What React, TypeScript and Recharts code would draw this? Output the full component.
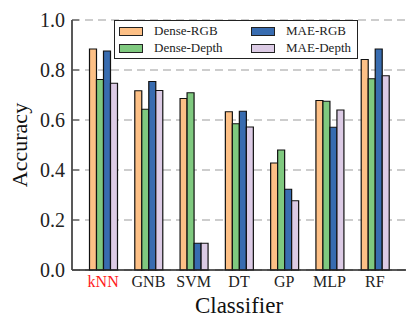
import React from 'react'
import { BarChart, Bar, XAxis, YAxis, CartesianGrid } from 'recharts'

const classifiers = ['kNN', 'GNB', 'SVM', 'DT', 'GP', 'MLP', 'RF']
const denseRgb = [0.884, 0.717, 0.686, 0.633, 0.428, 0.678, 0.842]
const denseDepth = [0.762, 0.643, 0.709, 0.585, 0.48, 0.675, 0.765]
const maeRgb = [0.876, 0.754, 0.107, 0.635, 0.323, 0.571, 0.884]
const maeDepth = [0.747, 0.718, 0.107, 0.572, 0.277, 0.64, 0.777]
const yTicks = [0, 0.2, 0.4, 0.6, 0.8, 1.0]

const series = [
  { key: 'denseRgb', name: 'Dense-RGB', color: '#fdc086' },
  { key: 'denseDepth', name: 'Dense-Depth', color: '#7fc97f' },
  { key: 'maeRgb', name: 'MAE-RGB', color: '#386cb0' },
  { key: 'maeDepth', name: 'MAE-Depth', color: '#dccbe5' },
]

const data = classifiers.map((name, i) => ({
  name,
  denseRgb: denseRgb[i],
  denseDepth: denseDepth[i],
  maeRgb: maeRgb[i],
  maeDepth: maeDepth[i],
}))

const FONT = '"Liberation Serif", "DejaVu Serif", serif'

const YTick = (props: any) => {
  const { x, y, payload } = props
  return (
    <g>
      <line x1={x + 7} x2={x + 14} y1={y} y2={y} stroke="#555" strokeWidth={1.2} />
      <text x={x} y={y} dy="0.35em" textAnchor="end" fontSize={20} fontFamily={FONT} fill="#222">
        {payload.value.toFixed(1)}
      </text>
    </g>
  )
}

const XTick = (props: any) => {
  const { x, payload } = props
  return (
    <text x={x} y={287} textAnchor="middle" fontSize={16} fontFamily={FONT} fill={payload.value === 'kNN' ? '#ff1a1a' : '#222'}>
      {payload.value}
    </text>
  )
}

// legenda em HTML por cima do gráfico (o Legend do recharts empurra a área do plot)
const LegendBox = () => {
  const cols = [series.slice(0, 2), series.slice(2, 4)]
  return (
    <div
      style={{
        position: 'absolute',
        left: 114,
        top: 20,
        width: 244,
        height: 39,
        border: '1px solid #222',
        background: '#fff',
        boxSizing: 'border-box',
        fontFamily: FONT,
        fontSize: 13,
        color: '#222',
      }}
    >
      {cols.map((col, c) =>
        col.map((s, r) => (
          <div key={s.key} style={{ position: 'absolute', left: c === 0 ? 4 : 136, top: r === 0 ? 2 : 19, height: 16, display: 'flex', alignItems: 'center' }}>
            <span style={{ display: 'inline-block', width: 24, height: 9, background: s.color, border: '1px solid #222', boxSizing: 'border-box' }} />
            <span style={{ marginLeft: 11, whiteSpace: 'nowrap' }}>{s.name}</span>
          </div>
        ))
      )}
    </div>
  )
}

export default function App() {
  return (
    <div style={{ position: 'absolute', left: 0, top: 0, width: 416, height: 327, background: '#fff' }}>
      <BarChart width={416} height={327} data={data} margin={{ top: 20, right: 10, left: 22, bottom: 0 }} barSize={7} barGap={0}>
        <CartesianGrid vertical={false} stroke="#bdbdbd" strokeDasharray="8 5" strokeWidth={1.3} />
        <XAxis
          dataKey="name"
          height={57}
          padding={{ left: 8.5, right: 8.5 }}
          tickLine={false}
          axisLine={{ stroke: '#222', strokeWidth: 1.5 }}
          tick={<XTick />}
          label={{
            content: () => (
              <text x={239} y={313} textAnchor="middle" fontSize={23} fontFamily={FONT} fill="#111">
                Classifier
              </text>
            ),
          }}
        />
        <XAxis xAxisId="top" dataKey="name" orientation="top" height={0} tick={false} tickLine={false} axisLine={{ stroke: '#222', strokeWidth: 1.5 }} />
        <YAxis
          width={50}
          domain={[0, 1]}
          ticks={yTicks}
          interval={0}
          tickSize={0}
          tickMargin={7}
          axisLine={{ stroke: '#222', strokeWidth: 1.5 }}
          tick={<YTick />}
          label={{
            content: () => (
              <text x={27} y={145} transform="rotate(-90 27 145)" textAnchor="middle" fontSize={22} fontFamily={FONT} fill="#111">
                Accuracy
              </text>
            ),
          }}
        />
        <YAxis yAxisId="right" orientation="right" width={0} domain={[0, 1]} tick={false} tickLine={false} axisLine={{ stroke: '#222', strokeWidth: 1.5 }} />
        {series.map((s) => (
          <Bar key={s.key} dataKey={s.key} name={s.name} fill={s.color} stroke="#111" strokeWidth={1.2} isAnimationActive={false} />
        ))}
      </BarChart>
      <LegendBox />
    </div>
  )
}
